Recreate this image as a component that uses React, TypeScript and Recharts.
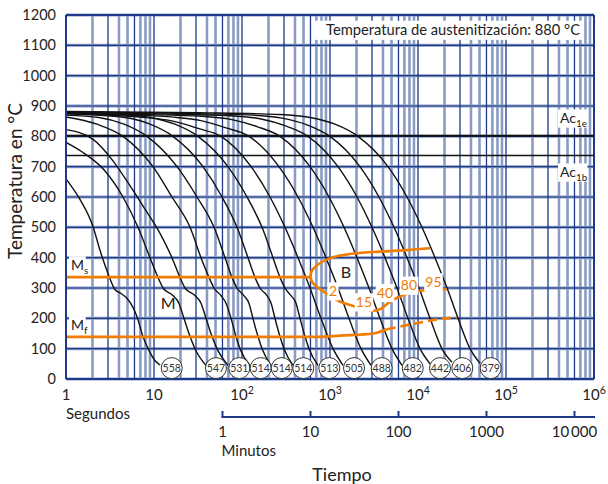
import React from 'react';
import {
  ComposedChart,
  Line,
  Scatter,
  XAxis,
  YAxis,
  ReferenceLine,
  ReferenceDot,
  Customized,
} from 'recharts';

const FONT = 'Lato, "Open Sans", Arial, sans-serif';
const INK = '#222';
const NAVY = '#1d3a88';
const LIGHT = '#8a9cc4';
const ORANGE = '#f07d00';

const WIDTH = 608;
const HEIGHT = 484;
const MARGIN = { top: 15, right: 14, bottom: 0, left: 6 };
const Y_AXIS_W = 60;
const PLOT_LEFT = MARGIN.left + Y_AXIS_W;
const PLOT_RIGHT = WIDTH - MARGIN.right;

/* ---------------- axes ---------------- */

const tempTicks = [0, 100, 200, 300, 400, 500, 600, 700, 800, 900, 1000, 1100, 1200];
const secondTicks = [1, 10, 100, 1000, 10000, 100000, 1000000];
const secondExps = ['', '', '2', '3', '4', '5', '6'];
const minuteTicks = [60, 600, 6000, 60000, 600000];
const minuteLabels = ['1', '10', '100', '1000', '10\u2009000'];

// log grid: 2..9 per decade in light blue, 1/3/6 per decade in navy
const decades = [1, 10, 100, 1000, 10000, 100000];
const lightGrid = decades.flatMap((d) => [2, 4, 5, 7, 8, 9].map((k) => k * d));
const navyGrid = decades.flatMap((d) => [1, 3, 6].map((k) => k * d)).filter((v) => v > 1);

/* ---------------- transformation lines (°C) ---------------- */

const AC1E = 802;
const AC1B = 737;

// [seconds, °C]
const msLine = [[1, 336], [600, 336]];
const bainiteStart = [[600, 336], [612, 352], [660, 366], [736, 378], [1000, 398], [1688, 412], [3700, 420], [7440, 425], [13700, 431]];
const bainiteEnd = [[600, 336], [618, 324], [680, 309], [805, 293], [1192, 260], [2011, 238], [3105, 225], [3700, 230], [4808, 255], [6808, 277], [10540, 291], [17780, 296], [21200, 296]];
const mfLine = [[1, 139], [770, 139], [1299, 143], [3105, 150], [4410, 164]];
const mfDashed = [[4410, 164], [9660, 184], [17780, 198], [27540, 203]];

/* ---------------- cooling curves [seconds, °C] ---------------- */

const curve558 = [[1, 660], [1.44, 592], [2.03, 502], [2.43, 425], [3.0, 348], [3.6, 295], [4.22, 282], [4.93, 266], [6.41, 205], [7.5, 139], [9.0, 88], [10.3, 60], [11.7, 46]];
const curve547 = [[1, 780], [1.5, 750], [2.7, 690], [4.44, 600], [6.58, 500], [9.0, 400], [11.1, 335], [12.66, 300], [16.4, 275], [19.2, 250], [21.9, 200], [25.7, 140], [29.2, 100], [39.0, 45]];
const curve531 = [[1, 822], [2.03, 790], [3.4, 720], [5.0, 650], [7.9, 560], [11.7, 480], [16.0, 400], [19.7, 335], [22.5, 300], [29.2, 275], [34.2, 250], [39.0, 200], [45.6, 140], [52.0, 100], [69.3, 45]];
const curve514a = [[1, 864], [2.25, 840], [4.44, 800], [9.74, 700], [16.0, 600], [25.7, 500], [34.2, 400], [42.2, 335], [48.1, 300], [57.7, 275], [65.8, 250], [75.0, 200], [85.5, 140], [94.9, 100], [123, 45]];
const curve514b = [[1, 870], [2.37, 862], [4.56, 840], [8.32, 800], [18.3, 700], [30.8, 600], [48.1, 500], [64.1, 400], [77.0, 335], [87.8, 300], [105, 275], [120, 250], [133, 200], [152, 140], [169, 100], [214, 45]];
const curve514c = [[1, 874], [4.68, 862], [9.0, 840], [16.4, 800], [36.0, 700], [59.3, 600], [87.8, 500], [117, 400], [140.5, 335], [160, 300], [192, 275], [214, 250], [237, 200], [270, 140], [300, 100], [380, 45]];
const curve513 = [[1, 876], [4.11, 872], [9.0, 862], [17.3, 840], [31.6, 800], [69.3, 700], [114, 600], [169, 500], [225, 400], [270, 335], [308, 300], [360, 275], [411, 250], [456, 200], [520, 140], [577, 100], [730, 45]];
const curve505 = [[1, 875], [2.43, 871], [7.5, 863], [16.4, 850], [31.6, 826], [57.7, 800], [127, 700], [208, 600], [308, 500], [433, 400], [593, 300], [790, 200], [1082, 100], [1405, 45]];
const curve488 = [[1, 876], [4.11, 872], [15.6, 864], [34.2, 852], [65.8, 828], [120, 800], [263, 700], [433, 600], [641, 500], [900, 400], [1233, 300], [1644, 200], [2250, 100], [2924, 45]];
const curve482 = [[1, 877], [6.93, 872], [35.1, 866], [77, 855], [148, 832], [270, 800], [593, 700], [974, 600], [1443, 500], [2027, 400], [2775, 300], [3700, 200], [5065, 100], [6580, 45]];
const curve442 = [[1, 878], [11.7, 874], [73, 868], [160, 858], [308, 835], [562, 800], [1233, 700], [2027, 600], [3000, 500], [4217, 400], [5770, 300], [7700, 200], [10540, 100], [13700, 50]];
const curve406 = [[1, 880], [19.7, 876], [130, 870], [285, 860], [548, 838], [1000, 800], [2190, 700], [3600, 600], [5340, 500], [7500, 400], [10270, 300], [13700, 200], [18700, 100], [24300, 55]];
const curve379 = [[1, 882], [33.3, 878], [270, 872], [593, 862], [1140, 840], [2080, 800], [4560, 700], [7500, 600], [11100, 500], [15600, 400], [21400, 300], [28500, 200], [39000, 100], [50600, 52]];

const coolingCurves = [curve558, curve547, curve531, curve514a, curve514b, curve514c, curve513, curve505, curve488, curve482, curve442, curve406, curve379];

// hardness (HV) badges at the end of each curve
const hardnessValues = [558, 547, 531, 514, 514, 514, 513, 505, 488, 482, 442, 406, 379];
const hardnessTimes = [15.9, 50.6, 93.2, 163, 283, 497, 982, 1874, 3869, 8708, 17780, 31870, 67000];
const HARDNESS_T = 36;

// phase-fraction labels on the bainite field (%)
const fractionLabels = ['2', '15', '40', '80', '95'];
const fractionTimes = [1082, 2434, 4217, 7900, 15000];
const fractionTemps = [290, 254, 285, 309, 320];

const toPts = (arr: number[][]) => arr.map(([t, T]) => ({ t, T }));
const hardnessData = hardnessValues.map((v, i) => ({ t: hardnessTimes[i], T: HARDNESS_T, v }));

/* ---------------- render helpers ---------------- */

function Tag({ cx, cy, text, sub, color = INK, size = 14, anchor = 'start', bg = true, k = 0.52 }: any) {
  const w = (text.length + (sub ? sub.length * 0.75 : 0)) * size * k + 4;
  const x0 = anchor === 'start' ? cx - 2 : anchor === 'end' ? cx - w + 2 : cx - w / 2;
  return (
    <g>
      {bg && <rect x={x0} y={cy - size * 0.62} width={w} height={size * 1.3} fill="#fff" />}
      <text x={cx} y={cy} dy="0.36em" textAnchor={anchor} fontSize={size} fill={color} fontFamily={FONT}>
        {text}
        {sub && (
          <tspan fontSize={size * 0.7} dy={size * 0.28}>
            {sub}
          </tspan>
        )}
      </text>
    </g>
  );
}

function HardnessBadge({ cx, cy, payload }: any) {
  return (
    <g>
      <circle cx={cx} cy={cy} r={10.5} fill="#fff" stroke="#333" strokeWidth={1} />
      <text x={cx} y={cy} dy="0.36em" textAnchor="middle" fontSize={10.5} fill="#333" fontFamily={FONT}>
        {payload.v}
      </text>
    </g>
  );
}

function SecondTick({ x, y, payload, index }: any) {
  const exp = secondExps[index];
  return (
    <g fontFamily={FONT} fill={INK}>
      <text x={x} y={y + 21} textAnchor="middle" fontSize={15}>
        {exp ? '10' : String(payload.value)}
        {exp && (
          <tspan fontSize={10.5} dy={-6}>
            {exp}
          </tspan>
        )}
      </text>
      {index === 0 && (
        <text x={x} y={y + 40} fontSize={15}>
          Segundos
        </text>
      )}
    </g>
  );
}

function MinuteTick({ x, y, index }: any) {
  return (
    <g fontFamily={FONT} fill={INK}>
      {index === 0 && <line x1={x - 1} x2={PLOT_RIGHT + 1} y1={y + 8} y2={y + 8} stroke={NAVY} strokeWidth={2} />}
      <line x1={x} x2={x} y1={y + 2} y2={y + 8} stroke={NAVY} strokeWidth={2} />
      <text x={x} y={y + 28} textAnchor="middle" fontSize={15}>
        {minuteLabels[index]}
      </text>
      {index === 0 && (
        <text x={x - 1} y={y + 47} fontSize={15}>
          Minutos
        </text>
      )}
    </g>
  );
}

function AxisTitles() {
  return (
    <g fontFamily={FONT} fill={INK}>
      <text transform="translate(22, 181) rotate(-90)" textAnchor="middle" fontSize={19}>
        Temperatura en °C
      </text>
      <text x={(PLOT_LEFT + PLOT_RIGHT) / 2 + 12} y={481} textAnchor="middle" fontSize={18}>
        Tiempo
      </text>
    </g>
  );
}

export default function App() {
  return (
    <div style={{ position: 'absolute', left: 0, top: 0, width: WIDTH, height: HEIGHT, background: '#fff' }}>
      <ComposedChart width={WIDTH} height={HEIGHT} margin={MARGIN}>
        <XAxis
          dataKey="t"
          type="number"
          scale="log"
          domain={[1, 1000000]}
          ticks={secondTicks}
          allowDataOverflow
          height={30}
          tickLine={false}
          tickSize={0}
          tickMargin={0}
          axisLine={{ stroke: NAVY, strokeWidth: 2 }}
          tick={<SecondTick />}
          interval={0}
        />
        <XAxis
          xAxisId="m"
          dataKey="t"
          type="number"
          scale="log"
          domain={[1, 1000000]}
          ticks={minuteTicks}
          allowDataOverflow
          height={75}
          tickLine={false}
          tickSize={0}
          tickMargin={0}
          axisLine={false}
          tick={<MinuteTick />}
          interval={0}
        />
        <YAxis
          type="number"
          domain={[0, 1200]}
          ticks={tempTicks}
          width={Y_AXIS_W}
          interval={0}
          tickLine={false}
          tickMargin={4}
          axisLine={{ stroke: NAVY, strokeWidth: 2 }}
          tick={{ fontSize: 14.5, fill: INK, fontFamily: FONT }}
        />

        {/* grid */}
        {tempTicks.map((v) => (
          <ReferenceLine key={`hl${v}`} y={v} stroke={LIGHT} strokeWidth={3} />
        ))}
        {lightGrid.map((v) => (
          <ReferenceLine key={`sl${v}`} x={v} stroke={LIGHT} strokeWidth={2.6} />
        ))}
        {navyGrid.map((v) => (
          <ReferenceLine key={`ml${v}`} x={v} stroke={NAVY} strokeWidth={1.3} />
        ))}
        {tempTicks.map((v) => (
          <ReferenceLine key={`hn${v}`} y={v} stroke={NAVY} strokeWidth={1.2} />
        ))}
        <ReferenceLine x={1000000} stroke={NAVY} strokeWidth={2} />
        <ReferenceLine y={1200} stroke={NAVY} strokeWidth={2} />

        {/* Ac1 temperatures */}
        <ReferenceLine y={AC1E} stroke="#111" strokeWidth={2.2} />
        <ReferenceLine y={AC1B} stroke="#111" strokeWidth={1.6} />

        {/* cooling curves */}
        {coolingCurves.map((c, i) => (
          <Line
            key={`c${i}`}
            data={toPts(c)}
            dataKey="T"
            type="monotone"
            stroke="#111"
            strokeWidth={1.4}
            dot={false}
            activeDot={false}
            isAnimationActive={false}
          />
        ))}

        {/* transformation lines */}
        {[msLine, bainiteStart, bainiteEnd, mfLine].map((c, i) => (
          <Line
            key={`o${i}`}
            data={toPts(c)}
            dataKey="T"
            type="monotone"
            stroke={ORANGE}
            strokeWidth={2.6}
            dot={false}
            activeDot={false}
            isAnimationActive={false}
          />
        ))}
        <Line
          data={toPts(mfDashed)}
          dataKey="T"
          type="monotone"
          stroke={ORANGE}
          strokeWidth={2.6}
          strokeDasharray="9 5"
          dot={false}
          activeDot={false}
          isAnimationActive={false}
        />

        <Scatter data={hardnessData} dataKey="T" shape={<HardnessBadge />} isAnimationActive={false} />

        {/* annotations */}
        <ReferenceDot x={693000} y={1151} r={0} ifOverflow="visible"
          shape={(p: any) => <Tag {...p} text="Temperatura de austenitización: 880 °C" anchor="end" size={14.7} k={0.475} />} />
        <ReferenceDot x={411000} y={860} r={0} ifOverflow="visible"
          shape={(p: any) => <Tag {...p} text="Ac" sub="1e" size={14} />} />
        <ReferenceDot x={411000} y={682} r={0} ifOverflow="visible"
          shape={(p: any) => <Tag {...p} text="Ac" sub="1b" size={14} />} />
        <ReferenceDot x={1.14} y={376} r={0} ifOverflow="visible"
          shape={(p: any) => <Tag {...p} text="M" sub="s" size={14} />} />
        <ReferenceDot x={1.14} y={178} r={0} ifOverflow="visible"
          shape={(p: any) => <Tag {...p} text="M" sub="f" size={14} />} />
        <ReferenceDot x={14.5} y={250} r={0} ifOverflow="visible"
          shape={(p: any) => <Tag {...p} text="M" anchor="middle" size={16} bg={false} />} />
        <ReferenceDot x={1520} y={352} r={0} ifOverflow="visible"
          shape={(p: any) => <Tag {...p} text="B" anchor="middle" size={16} bg={false} />} />
        {fractionLabels.map((s, i) => (
          <ReferenceDot key={`f${i}`} x={fractionTimes[i]} y={fractionTemps[i]} r={0} ifOverflow="visible"
            shape={(p: any) => <Tag {...p} text={s} anchor="middle" size={14} color={ORANGE} />} />
        ))}

        <Customized component={<AxisTitles />} />
      </ComposedChart>
    </div>
  );
}
